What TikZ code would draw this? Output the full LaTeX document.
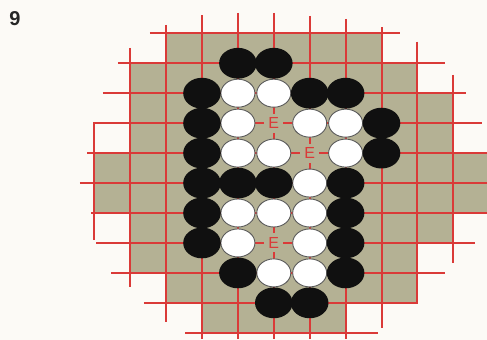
\documentclass[tikz,border=0pt]{standalone}
\usepackage{fontspec}
\setmainfont{Liberation Sans}
\definecolor{paper}{RGB}{252,250,246}
\definecolor{board}{RGB}{180,177,148}
\definecolor{gridred}{RGB}{218,58,56}
\definecolor{stoneblack}{RGB}{16,16,16}
\definecolor{stoneedge}{RGB}{90,90,90}

\begin{document}
\begin{tikzpicture}[x=35.9pt, y=-29.95pt,
  gridline/.style={draw=gridred, line width=1.8pt},
  blackstone/.style={fill=stoneblack},
  whitestone/.style={fill=white, draw=stoneedge, line width=0.9pt},
  emark/.style={fill=board, text=gridred, inner sep=0pt, minimum width=19pt, minimum height=19pt, font=\fontsize{16}{16}\selectfont}]
\useasboundingbox (-2.627,-1.112) rectangle (10.939,10.240);
\fill[paper] (-2.627,-1.112) rectangle (10.939,10.240);
% board area
\fill[board] (2,0) -- (8,0) -- (8,1) -- (9,1) -- (9,2) -- (10,2) -- (10,4) -- (10.939,4) -- (10.939,6) -- (10,6) -- (10,7) -- (9,7) -- (9,9) -- (7,9) -- (7,10) -- (3,10) -- (3,9) -- (2,9) -- (2,8) -- (1,8) -- (1,6) -- (0,6) -- (0,4) -- (1,4) -- (1,1) -- (2,1) -- cycle;
% grid: row/from/to and column/from/to
\foreach \row/\from/\to in {0/1.55/8.52, 1/0.66/9.77, 2/0.24/10.35, 3/-0.03/10.80, 4/-0.20/10.939, 5/-0.40/10.939, 6/-0.09/10.939, 7/0.05/10.60, 8/0.47/9.77, 9/1.38/9.03, 10/2.53/7.89}
  \draw[gridline] (\from,\row) -- (\to,\row);
\foreach \col/\from/\to in {0/2.97/6.9, 1/0.49/8.47, 2/-0.28/9.64, 3/-0.61/10.2, 4/-0.68/10.2, 5/-0.68/10.2, 6/-0.58/10.2, 7.01/-0.48/10.2, 8.01/-0.21/9.84, 9/0.28/9.03, 10/1.39/7.67}
  \draw[gridline] (\col,\from) -- (\col,\to);
% stones
\foreach \col/\row in {4/2, 5/2, 4/3, 6/3, 7/3, 4/4, 5/4, 7/4, 6/5, 4/6, 5/6, 6/6, 4/7, 6/7, 5/8, 6/8}
  \filldraw[whitestone] (\col,\row) ellipse [x radius=17pt, y radius=14pt];
\foreach \col/\row in {4/1, 5/1, 3/2, 6/2, 7/2, 3/3, 8/3, 3/4, 8/4, 3/5, 4/5, 5/5, 7/5, 3/6, 7/6, 3/7, 7/7, 4/8, 7/8, 5/9, 6/9}
  \fill[blackstone] (\col,\row) ellipse [x radius=18.8pt, y radius=15.4pt];
% eye points
\node[emark] (e1) at (5,3) {E};
\node[emark] (e2) at (6,4) {E};
\node[emark] (e3) at (5,7) {E};
\node[font=\fontsize{20}{20}\selectfont\bfseries, text=black!85] (fig) at (-2.21,-0.48) {9};
\end{tikzpicture}
\end{document}
